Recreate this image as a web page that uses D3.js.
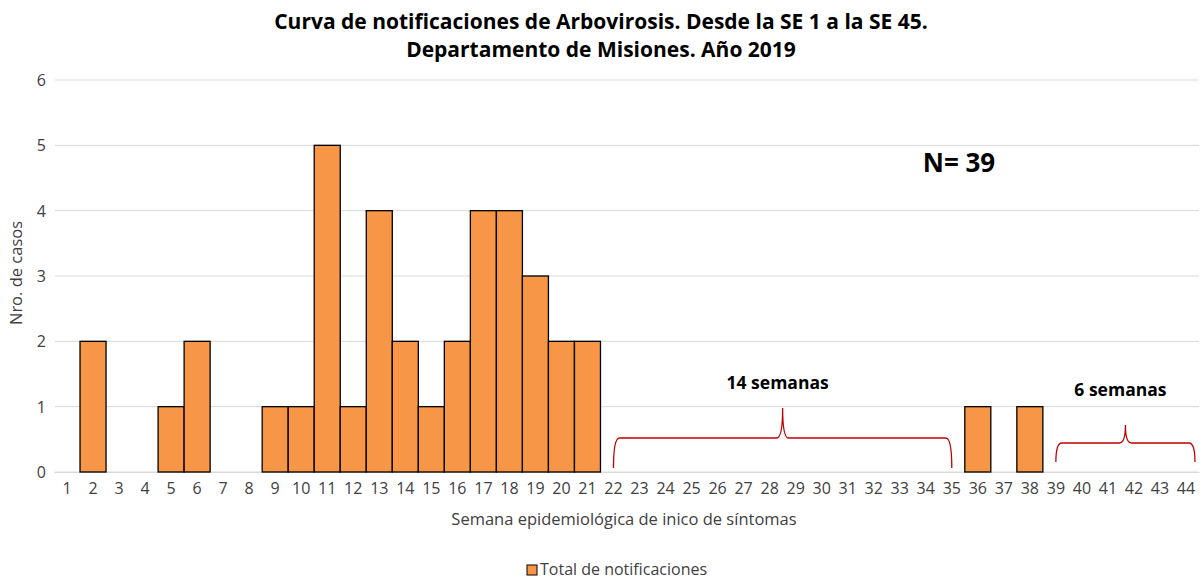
<!DOCTYPE html>
<html><head><meta charset="utf-8">
<script src="https://cdn.jsdelivr.net/npm/d3@7/dist/d3.min.js"></script>
<style>body{margin:0;background:#fff;} text{font-family:"Open Sans","Noto Sans",sans-serif;}</style>
</head><body>
<svg id="c" width="1203" height="580"></svg>
<script>
const weeks = d3.range(1, 45).map(String);
const casos = [0,2,0,0,1,2,0,0,1,1,5,1,4,2,1,2,4,4,3,2,2,0,0,0,0,0,0,0,0,0,0,0,0,0,0,1,0,1,0,0,0,0,0,0];
const yTicks = [0,1,2,3,4,5,6];
const braces = [{from:"22", to:"35", label:"14 semanas", depth:30, peak:30, endShift:0},
                {from:"39", to:"44", label:"6 semanas", depth:19, peak:18, endShift:9}];

const svg = d3.select("#c");
const m = {l:54, r:1199, t:80, b:472};
const x = d3.scaleBand().domain(weeks).range([m.l, m.r]).padding(0);
const y = d3.scaleLinear().domain([0,6]).range([m.b, m.t]);

// grid
svg.append("g").selectAll("line").data(yTicks).join("line")
  .attr("x1", m.l+1).attr("x2", m.r).attr("y1", d=>y(d)).attr("y2", d=>y(d))
  .attr("stroke", "#d9d9d9").attr("stroke-width", 1);

// y axis labels
const ya = svg.append("g").attr("transform", `translate(${m.l-8},0)`)
  .call(d3.axisLeft(y).tickValues(yTicks).tickFormat(d3.format("d")).tickSize(0).tickPadding(0));
ya.select(".domain").remove();
ya.selectAll("text").attr("font-size", 16).attr("fill", "#404040").attr("font-family", '"Open Sans",sans-serif').attr("dy", "0.35em");

// x axis
const xa = svg.append("g").attr("transform", `translate(0,${m.b})`)
  .call(d3.axisBottom(x).tickSize(0).tickPadding(11));
xa.select(".domain").attr("stroke", "#d9d9d9");
xa.selectAll("text").attr("font-size", 16).attr("fill", "#404040").attr("font-family", '"Open Sans",sans-serif');

// bars
svg.append("g").selectAll("rect").data(weeks.map((w,i)=>({w, v:casos[i]})).filter(d=>d.v>0)).join("rect")
  .attr("x", d=>x(d.w)).attr("width", x.bandwidth())
  .attr("y", d=>y(d.v)).attr("height", d=>y(0)-y(d.v))
  .attr("fill", "#F79646").attr("stroke", "#000").attr("stroke-width", 1.3);

// braces
const bw = x.bandwidth();
braces.forEach((b, i) => {
  const x1 = x(b.from) + bw/2;
  const x2 = x(b.to) + bw/2 + b.endShift;
  const xm = (x1+x2)/2;
  const base = i===0 ? 438 : 443;
  const tip = base + b.depth;
  const pk = base - b.peak;
  const r = 6;
  const p = d3.path();
  p.moveTo(x1, tip);
  p.quadraticCurveTo(x1, base, x1+r, base);
  p.lineTo(xm-r, base);
  p.quadraticCurveTo(xm, base, xm, pk);
  p.quadraticCurveTo(xm, base, xm+r, base);
  p.lineTo(x2-r, base);
  p.quadraticCurveTo(x2, base, x2, tip);
  svg.append("path").attr("d", p.toString()).attr("fill", "none").attr("stroke", "#C00000").attr("stroke-width", 1.3);
  svg.append("text").attr("x", xm-5).attr("y", i===0 ? 389 : 396).attr("text-anchor", "middle")
    .attr("font-size", 17.5).attr("font-weight", "bold").attr("fill", "#000").text(b.label);
});

// N
svg.append("text").attr("x", 959).attr("y", 172).attr("text-anchor", "middle")
  .attr("font-size", 26).attr("font-weight", "bold").text("N= 39");

// title
svg.append("text").attr("x", 601).attr("y", 29).attr("text-anchor", "middle")
  .attr("font-size", 21).attr("font-weight", "bold").attr("fill", "#000")
  .text("Curva de notificaciones de Arbovirosis. Desde la SE 1 a la SE 45.");
svg.append("text").attr("x", 601).attr("y", 57).attr("text-anchor", "middle")
  .attr("font-size", 21).attr("font-weight", "bold").attr("fill", "#000")
  .text("Departamento de Misiones. Año 2019");

// axis titles
svg.append("text").attr("transform", "translate(22,273) rotate(-90)").attr("text-anchor", "middle")
  .attr("font-size", 16.5).attr("fill", "#404040").text("Nro. de casos");
svg.append("text").attr("x", 624).attr("y", 525).attr("text-anchor", "middle")
  .attr("font-size", 16.5).attr("fill", "#404040").text("Semana epidemiológica de inico de síntomas");

// legend
const lg = svg.append("g");
lg.append("rect").attr("x", 527).attr("y", 565).attr("width", 10).attr("height", 10)
  .attr("fill", "#F79646").attr("stroke", "#000").attr("stroke-width", 1);
lg.append("text").attr("x", 540).attr("y", 575).attr("font-size", 16).attr("fill", "#404040").text("Total de notificaciones");
</script>
</body></html>
